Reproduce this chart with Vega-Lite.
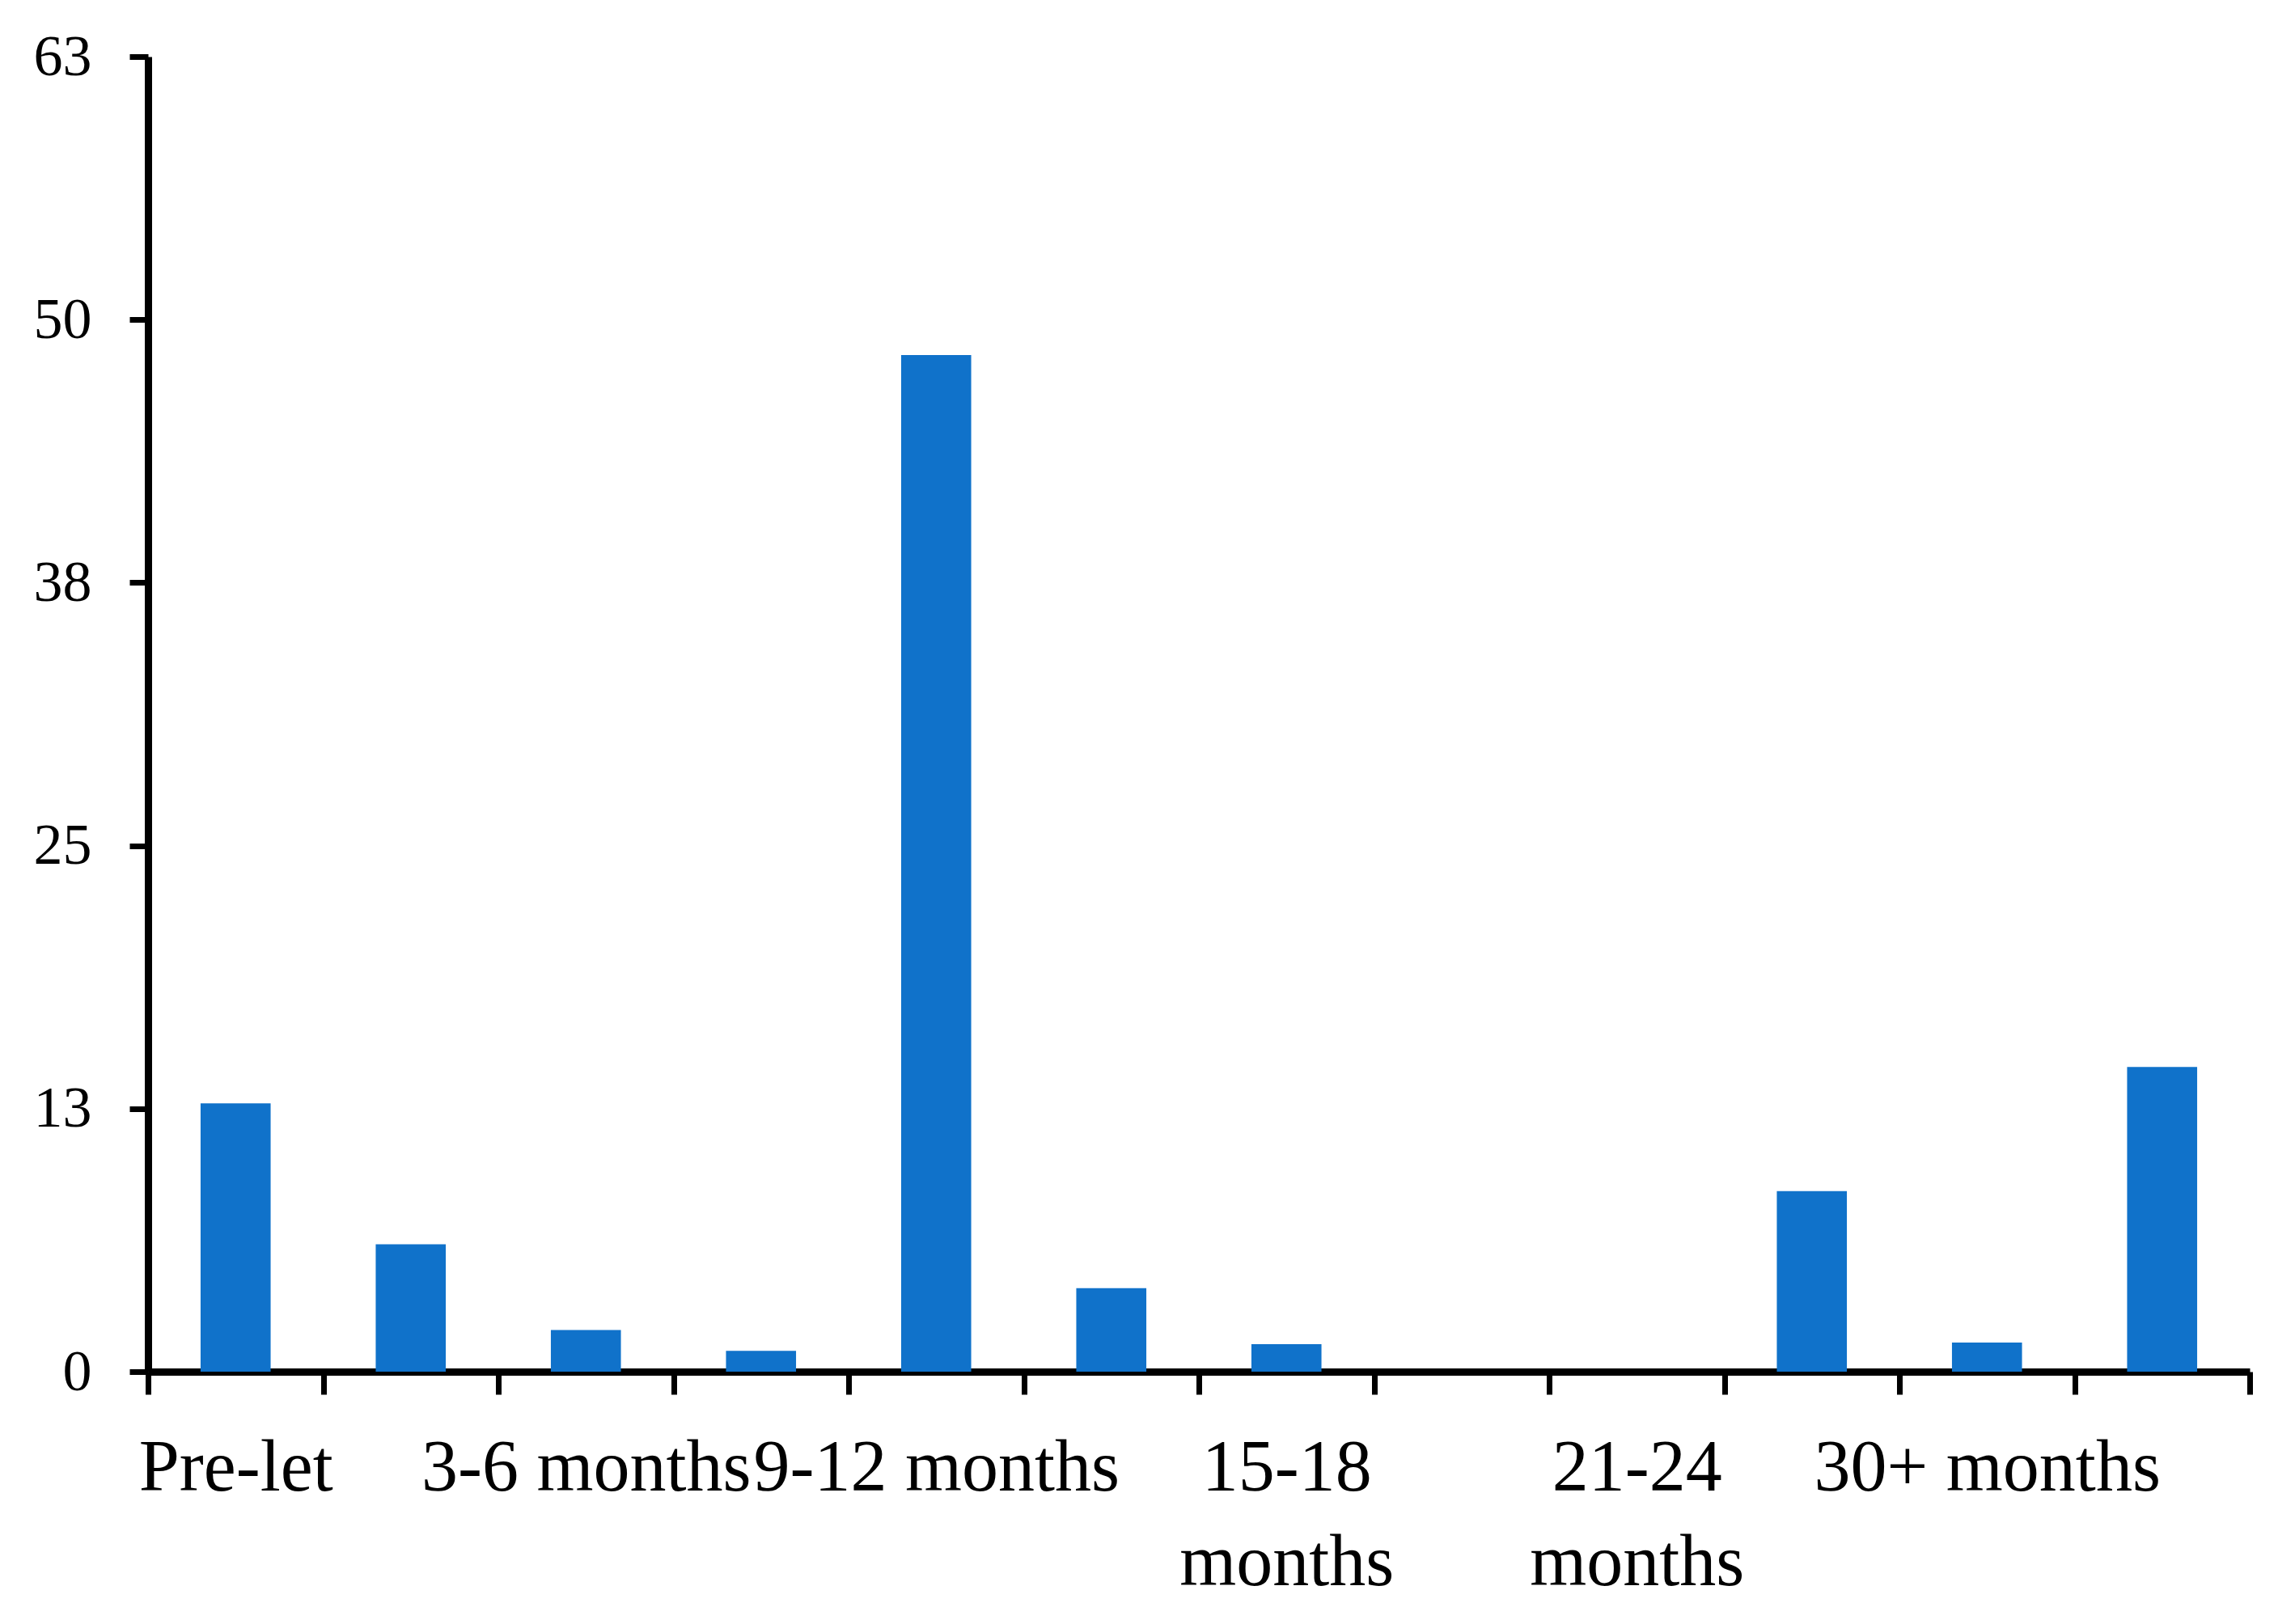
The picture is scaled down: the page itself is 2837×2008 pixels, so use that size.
{
  "$schema": "https://vega.github.io/schema/vega-lite/v6.json",
  "autosize": {"type": "none"},
  "padding": {"left": 183, "top": 70, "right": 56, "bottom": 312},
  "width": 2598,
  "height": 1626,
  "background": "white",
  "config": {"view": {"stroke": null}, "font": "Liberation Serif"},
  "data": {
    "values": [
      {"period": "Pre-let", "value": 12.85},
      {"period": "0-3 months", "value": 6.1},
      {"period": "3-6 months", "value": 2.0},
      {"period": "6-9 months", "value": 1.0},
      {"period": "9-12 months", "value": 48.7},
      {"period": "12-15 months", "value": 4.0},
      {"period": "15-18 months", "value": 1.32},
      {"period": "18-21 months", "value": 0},
      {"period": "21-24 months", "value": 0},
      {"period": "24-30 months", "value": 8.65},
      {"period": "30+ months", "value": 1.39},
      {"period": "Unknown", "value": 14.6}
    ]
  },
  "mark": {"type": "bar", "color": "#1072CA", "width": {"band": 0.4}},
  "encoding": {
    "x": {
      "field": "period",
      "type": "nominal",
      "sort": null,
      "scale": {"paddingInner": 0, "paddingOuter": 0},
      "axis": {
        "title": null,
        "labelAngle": 0,
        "labelOverlap": false,
        "labelBound": false,
        "labelLimit": 0,
        "labelFont": "Liberation Serif",
        "labelFontSize": 90,
        "labelColor": "black",
        "labelPadding": 47,
        "labelLineHeight": 117,
        "labelBaseline": "top",
        "labelExpr": "indexof(['Pre-let','3-6 months','9-12 months','30+ months'], datum.value) >= 0 ? datum.value : (indexof(['15-18 months','21-24 months'], datum.value) >= 0 ? split(datum.value, ' ') : '')",
        "tickBand": "extent",
        "tickSize": 28,
        "tickWidth": 7,
        "tickColor": "black",
        "domainColor": "black",
        "domainWidth": 9,
        "grid": false
      }
    },
    "y": {
      "field": "value",
      "type": "quantitative",
      "scale": {"domain": [0, 63], "nice": false},
      "axis": {
        "title": null,
        "values": [0, 12.6, 25.2, 37.8, 50.4, 63],
        "format": ".0f",
        "labelFont": "Liberation Serif",
        "labelFontSize": 72,
        "labelColor": "black",
        "labelPadding": 47,
        "tickSize": 23,
        "tickWidth": 7,
        "tickColor": "black",
        "domainColor": "black",
        "domainWidth": 9,
        "grid": false
      }
    }
  }
}
